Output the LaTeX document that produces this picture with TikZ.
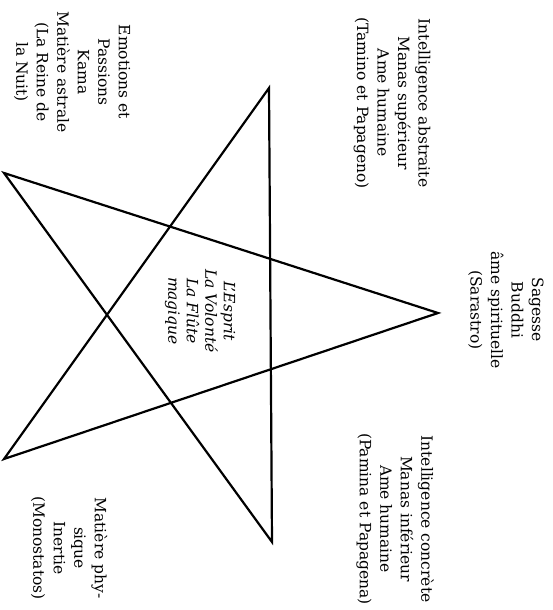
\documentclass[tikz,border=0pt]{standalone}
\usepackage{fontspec}
\setmainfont{DejaVu Serif}
\usepackage{tikz}
\usetikzlibrary{positioning}

\begin{document}
\begin{tikzpicture}[
    x=1pt, y=-1pt,
    label/.style={rotate=-90, align=center, inner sep=0pt, font=\fontsize{15.5}{20.5}\selectfont},
    centre/.style={label, font=\fontsize{15.5}{18.5}\selectfont\itshape},
    edge/.style={line width=2.2pt, line join=miter, black}
]
\useasboundingbox (0,0) rectangle (552,610);
% star points
\coordinate (top) at (269,88);
\coordinate (bottom) at (272,542);
\coordinate (right) at (438,313);
\coordinate (lefttop) at (4,173);
\coordinate (leftbottom) at (4,459);
\draw[edge] (top) -- (bottom) -- (lefttop) -- (right) -- (leftbottom) -- cycle;
% texts
\node[label] (kama) at (72,72) {Emotions et\\Passions\\Kama\\Matière astrale\\(La Reine de\\la Nuit)};
\node[label] (tamino) at (392,103) {Intelligence abstraite\\Manas supérieur\\Ame humaine\\(Tamino et Papageno)};
\node[label] (buddhi) at (506,310) {Sagesse\\Buddhi\\âme spirituelle\\(Sarastro)};
\node[label] (pamina) at (395,519) {Intelligence concrète\\Manas inférieur\\Ame humaine\\(Pamina et Papagena)};
\node[label] (inertie) at (69,548) {Matière phy-\\sique\\Inertie\\(Monostatos)};
\node[centre] (esprit) at (200,311) {L'Esprit\\La Volonté\\La Flûte\\magique};
\end{tikzpicture}
\end{document}
